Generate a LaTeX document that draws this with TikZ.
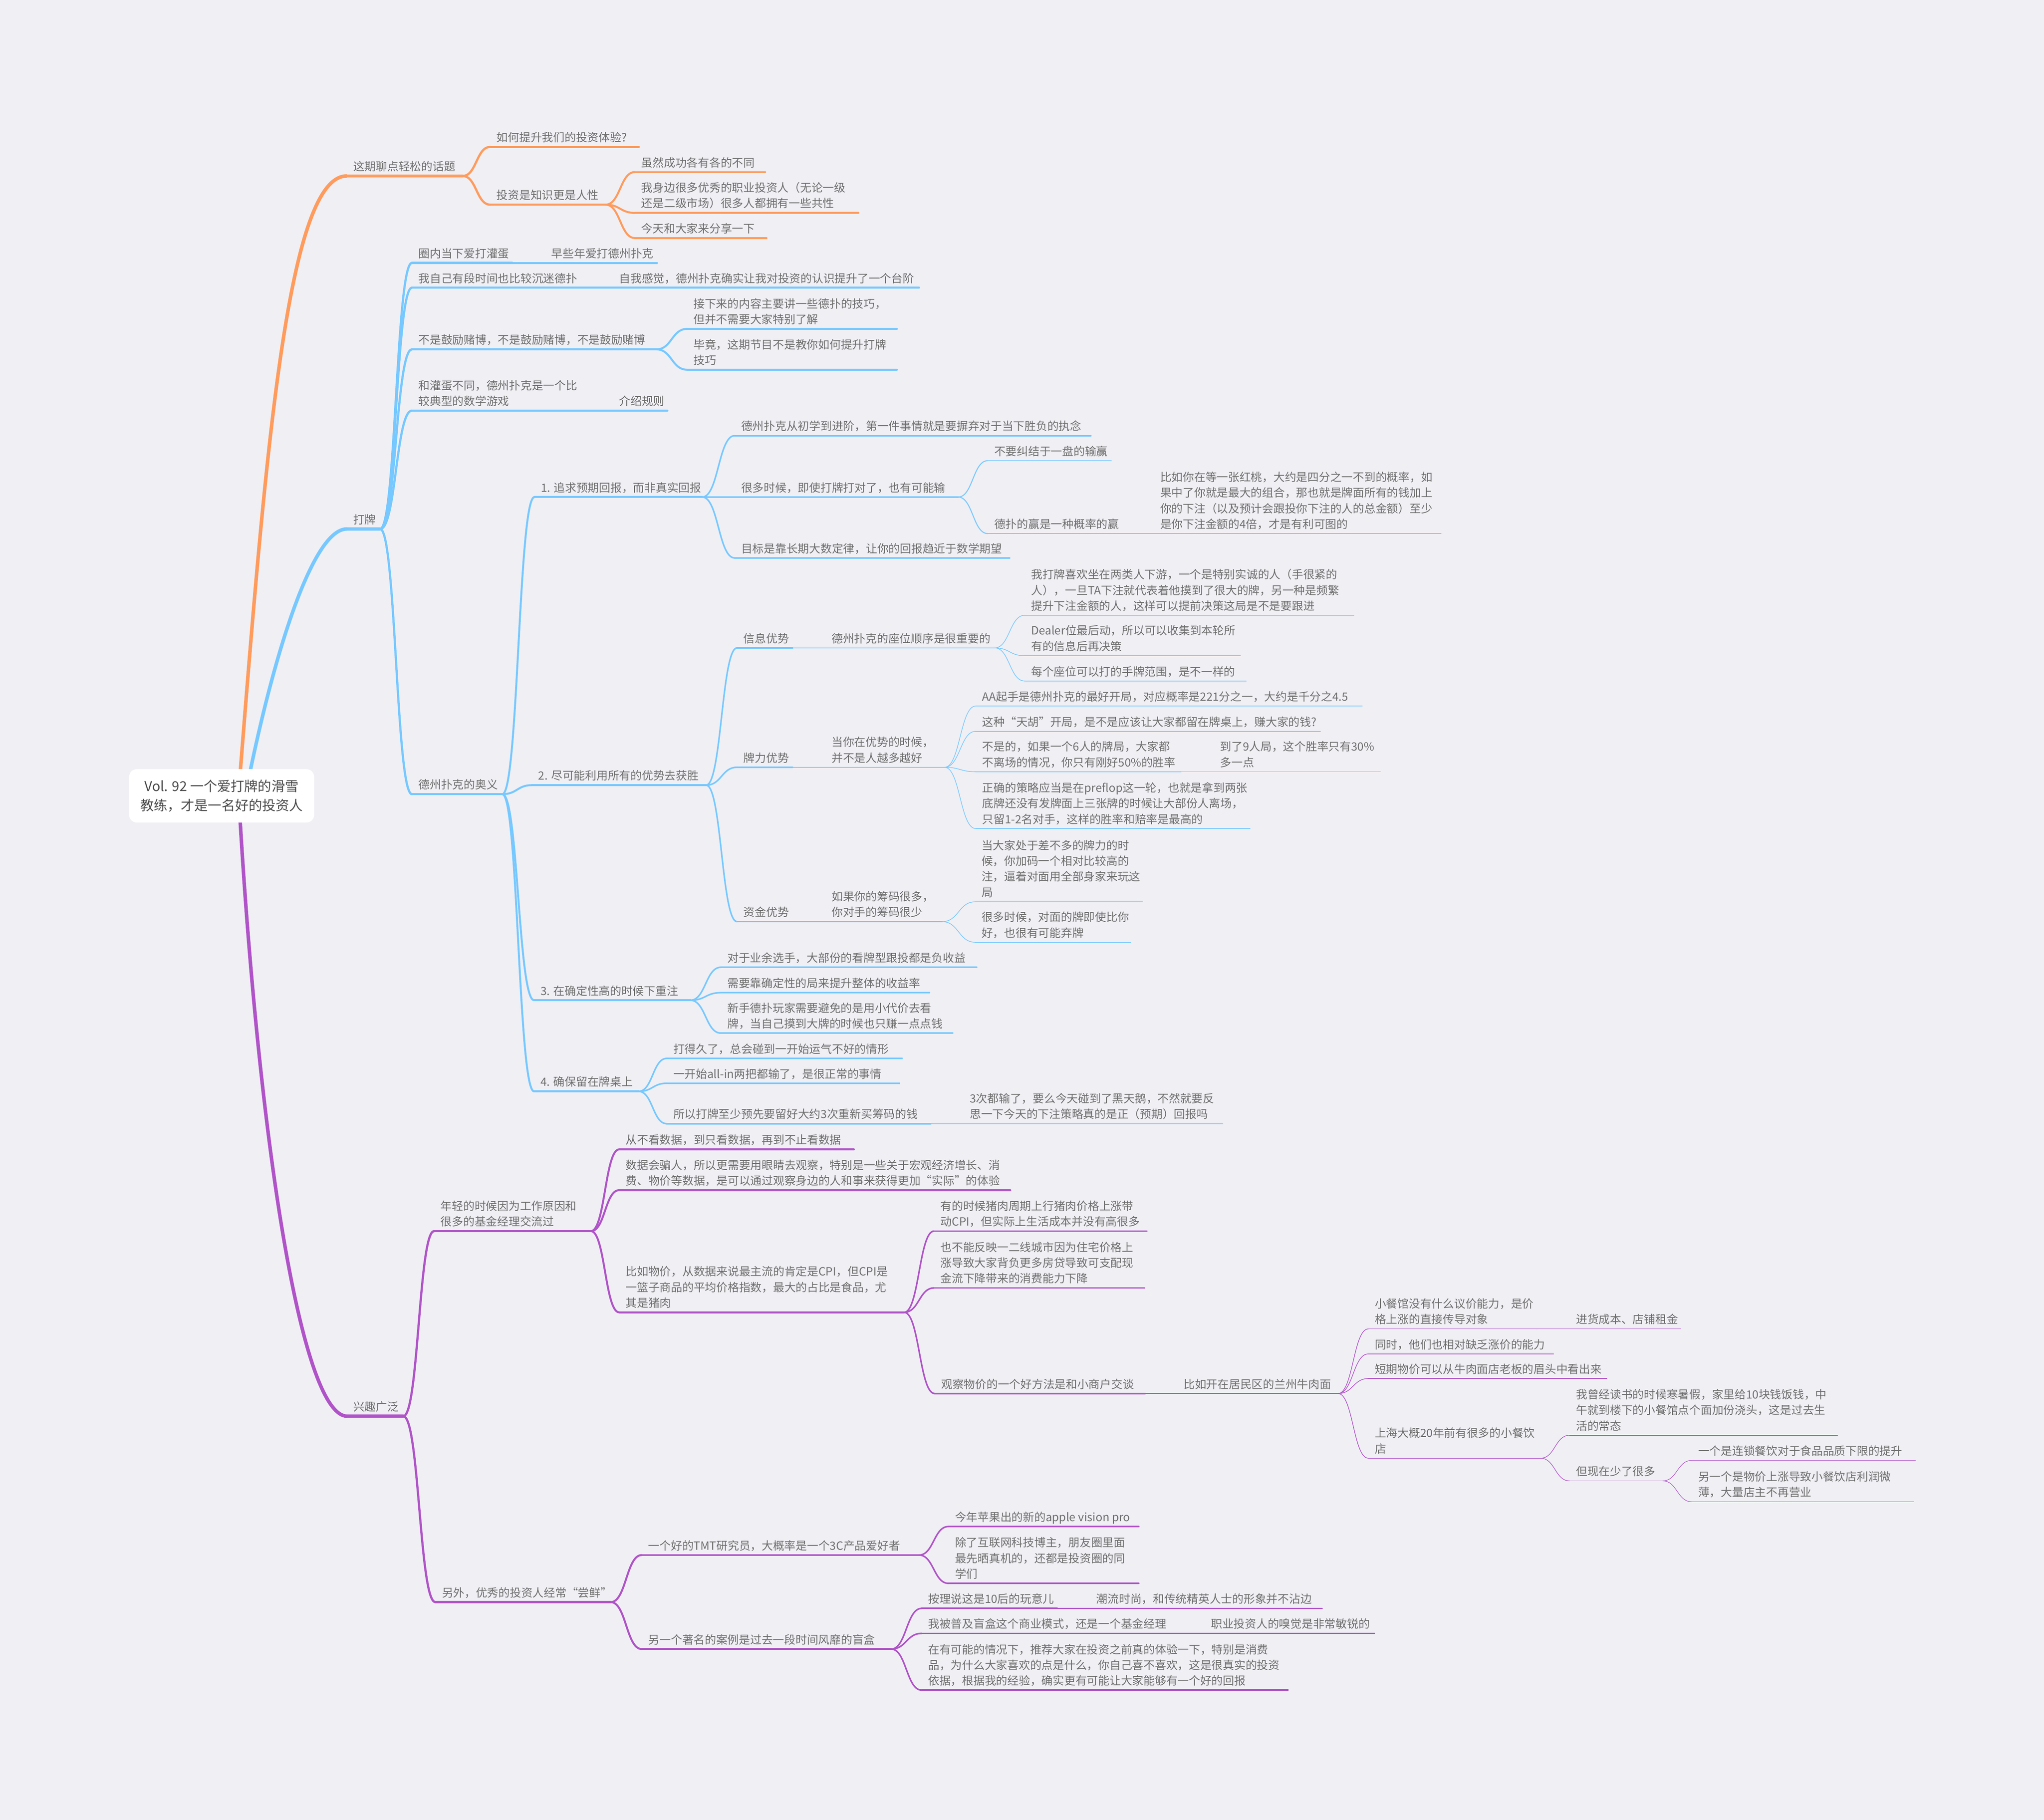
\documentclass[tikz,border=0pt]{standalone}
\usepackage{fontspec}
\setmainfont{Noto Sans CJK SC}
\usetikzlibrary{calc}
\definecolor{bgc}{HTML}{EFEFF4}
\definecolor{orc}{HTML}{FF9B5C}
\definecolor{blc}{HTML}{76C8FF}
\definecolor{puc}{HTML}{B053C8}
\definecolor{txc}{HTML}{6E6E6E}
\definecolor{rtc}{HTML}{4A4A4A}
\tikzset{
  txt/.style={font=\fontsize{8.7}{12}\selectfont, text=txc, inner sep=0pt, outer sep=0pt, align=left, anchor=base west},
  rootbox/.style={fill=white, rounded corners=6pt, minimum width=142pt, minimum height=41pt, inner sep=0pt, align=center, text=rtc, font=\fontsize{10.4}{14.5}\selectfont},
}
% #1 name, #2 colour, #3 width, #4 x start, #5 x end, #6 y of underline, #7 text x, #8 text
\newcommand\mmtopic[8]{%
  \coordinate (#1-s) at (#4,#6);
  \coordinate (#1-e) at (#5,#6);
  \draw[draw=#2, line width=#3pt, line cap=round] (#1-s) -- (#1-e);
  \node[txt] (#1) at (#7,#6-4) {#8};
}
% #1 colour, #2 width, #3 parent, #4 child
\newcommand\mmconn[4]{%
  \coordinate (mid) at ($(#3-e)!0.5!(#4-s)$);
  \draw[draw=#1, line width=#2pt, line cap=round] (#3-e) .. controls (mid |- #3-e) and (mid |- #4-s) .. (#4-s);
}
\begin{document}
\begin{tikzpicture}[x=1pt,y=-1pt]
\useasboundingbox (0,0) rectangle (1568,1396);
\fill[bgc] (0,0) rectangle (1568,1396);

% ---------------- orange ----------------
\mmtopic{A}{orc}{2.4}{266}{355}{135}{271}{这期聊点轻松的话题}
\mmtopic{A1}{orc}{1.7}{376}{490}{112.7}{381}{如何提升我们的投资体验?}
\mmtopic{A2}{orc}{1.7}{376}{464.6}{157}{381}{投资是知识更是人性}
\mmtopic{A2a}{orc}{1.5}{487}{587}{132}{492}{虽然成功各有各的不同}
\mmtopic{A2b}{orc}{1.5}{487}{658.5}{163.3}{492}{我身边很多优秀的职业投资人（无论一级\\还是二级市场）很多人都拥有一些共性}
\mmtopic{A2c}{orc}{1.5}{487}{588}{182.6}{492}{今天和大家来分享一下}
\mmconn{orc}{1.7}{A}{A1}
\mmconn{orc}{1.7}{A}{A2}
\mmconn{orc}{1.5}{A2}{A2a}
\mmconn{orc}{1.5}{A2}{A2b}
\mmconn{orc}{1.5}{A2}{A2c}

% ---------------- blue ----------------
\mmtopic{B}{blc}{2.4}{266}{291.6}{405.8}{271}{打牌}
\mmtopic{B1}{blc}{1.7}{316}{393}{201.7}{321}{圈内当下爱打灌蛋}
\mmtopic{B1a}{blc}{1.5}{393}{504}{201.7}{423}{早些年爱打德州扑克}
\mmtopic{B2}{blc}{1.7}{316}{445}{220.7}{321}{我自己有段时间也比较沉迷德扑}
\mmtopic{B2a}{blc}{1.5}{445}{705}{220.7}{475}{自我感觉，德州扑克确实让我对投资的认识提升了一个台阶}
\mmtopic{B3}{blc}{1.7}{316}{503.6}{268}{321}{不是鼓励赌博，不是鼓励赌博，不是鼓励赌博}
\mmtopic{B3a}{blc}{1.5}{527}{688}{252.3}{532}{接下来的内容主要讲一些德扑的技巧，\\但并不需要大家特别了解}
\mmtopic{B3b}{blc}{1.5}{527}{688}{283.6}{532}{毕竟，这期节目不是教你如何提升打牌\\技巧}
\mmtopic{B4}{blc}{1.7}{316}{445}{315}{321}{和灌蛋不同，德州扑克是一个比\\较典型的数学游戏}
\mmtopic{B4a}{blc}{1.5}{445}{512}{315}{475}{介绍规则}
\mmtopic{B5}{blc}{1.7}{316}{385.4}{609.2}{321}{德州扑克的奥义}
\mmconn{blc}{1.7}{B}{B1}
\mmconn{blc}{1.7}{B}{B2}
\mmconn{blc}{1.7}{B}{B3}
\mmconn{blc}{1.7}{B}{B4}
\mmconn{blc}{1.7}{B}{B5}
\mmconn{blc}{1.5}{B1}{B1a}
\mmconn{blc}{1.5}{B2}{B2a}
\mmconn{blc}{1.5}{B3}{B3a}
\mmconn{blc}{1.5}{B3}{B3b}
\mmconn{blc}{1.5}{B4}{B4a}

\mmtopic{C1}{blc}{1.5}{410}{538.7}{381.3}{415}{1. 追求预期回报，而非真实回报}
\mmtopic{C2}{blc}{1.5}{408}{541.7}{602.3}{413}{2. 尽可能利用所有的优势去获胜}
\mmtopic{C3}{blc}{1.5}{409.7}{529.6}{767.3}{414.7}{3. 在确定性高的时候下重注}
\mmtopic{C4}{blc}{1.5}{409.7}{489.9}{837.2}{414.7}{4. 确保留在牌桌上}
\mmconn{blc}{1.5}{B5}{C1}
\mmconn{blc}{1.5}{B5}{C2}
\mmconn{blc}{1.5}{B5}{C3}
\mmconn{blc}{1.5}{B5}{C4}

\mmtopic{C1a}{blc}{1.2}{563.6}{836.8}{334.2}{568.6}{德州扑克从初学到进阶，第一件事情就是要摒弃对于当下胜负的执念}
\mmtopic{C1b}{blc}{1.2}{563.6}{735}{381.3}{568.6}{很多时候，即使打牌打对了，也有可能输}
\mmtopic{C1c}{blc}{1.2}{563.6}{774.5}{428}{568.6}{目标是靠长期大数定律，让你的回报趋近于数学期望}
\mmtopic{C1b1}{blc}{0.75}{757.7}{852.5}{353.4}{762.7}{不要纠结于一盘的输赢}
\mmtopic{C1b2}{blc}{0.75}{757.7}{860}{409.3}{762.7}{德扑的赢是一种概率的赢}
\mmtopic{C1b2a}{blc}{0.5}{860}{1105.5}{409.3}{890}{比如你在等一张红桃，大约是四分之一不到的概率，如\\果中了你就是最大的组合，那也就是牌面所有的钱加上\\你的下注（以及预计会跟投你下注的人的总金额）至少\\是你下注金额的4倍，才是有利可图的}
\mmconn{blc}{1.2}{C1}{C1a}
\mmconn{blc}{1.2}{C1}{C1b}
\mmconn{blc}{1.2}{C1}{C1c}
\mmconn{blc}{0.75}{C1b}{C1b1}
\mmconn{blc}{0.75}{C1b}{C1b2}
\mmconn{blc}{0.5}{C1b2}{C1b2a}

\mmtopic{C2a}{blc}{1.2}{565.4}{608}{497}{570.4}{信息优势}
\mmtopic{C2b}{blc}{1.2}{565.4}{608}{588.6}{570.4}{牌力优势}
\mmtopic{C2c}{blc}{1.2}{565.4}{608}{707}{570.4}{资金优势}
\mmconn{blc}{1.2}{C2}{C2a}
\mmconn{blc}{1.2}{C2}{C2b}
\mmconn{blc}{1.2}{C2}{C2c}

\mmtopic{C2a1}{blc}{0.75}{608}{763}{497}{638}{德州扑克的座位顺序是很重要的}
\mmtopic{C2a1a}{blc}{0.5}{786}{1038.6}{472}{791}{我打牌喜欢坐在两类人下游，一个是特别实诚的人（手很紧的\\人），一旦TA下注就代表着他摸到了很大的牌，另一种是频繁\\提升下注金额的人，这样可以提前决策这局是不是要跟进}
\mmtopic{C2a1b}{blc}{0.5}{786}{951.6}{503}{791}{Dealer位最后动，所以可以收集到本轮所\\有的信息后再决策}
\mmtopic{C2a1c}{blc}{0.5}{786}{956}{522.4}{791}{每个座位可以打的手牌范围，是不一样的}
\mmconn{blc}{0.75}{C2a}{C2a1}
\mmconn{blc}{0.5}{C2a1}{C2a1a}
\mmconn{blc}{0.5}{C2a1}{C2a1b}
\mmconn{blc}{0.5}{C2a1}{C2a1c}

\mmtopic{C2b1}{blc}{0.75}{608}{724.6}{588.6}{638}{当你在优势的时候，\\并不是人越多越好}
\mmtopic{C2b1a}{blc}{0.5}{748.5}{1045}{541.6}{753.5}{AA起手是德州扑克的最好开局，对应概率是221分之一，大约是千分之4.5}
\mmtopic{C2b1b}{blc}{0.5}{748.5}{1013}{561}{753.5}{这种“天胡”开局，是不是应该让大家都留在牌桌上，赚大家的钱?}
\mmtopic{C2b1c}{blc}{0.5}{748.5}{906}{592}{753.5}{不是的，如果一个6人的牌局，大家都\\不离场的情况，你只有刚好50\%的胜率}
\mmtopic{C2b1c1}{blc}{0.45}{906}{1059}{592}{936}{到了9人局，这个胜率只有30\%\\多一点}
\mmtopic{C2b1d}{blc}{0.5}{748.5}{959}{635.6}{753.5}{正确的策略应当是在preflop这一轮，也就是拿到两张\\底牌还没有发牌面上三张牌的时候让大部份人离场，\\只留1-2名对手，这样的胜率和赔率是最高的}
\mmconn{blc}{0.75}{C2b}{C2b1}
\mmconn{blc}{0.5}{C2b1}{C2b1a}
\mmconn{blc}{0.5}{C2b1}{C2b1b}
\mmconn{blc}{0.5}{C2b1}{C2b1c}
\mmconn{blc}{0.5}{C2b1}{C2b1d}
\mmconn{blc}{0.45}{C2b1c}{C2b1c1}

\mmtopic{C2c1}{blc}{0.75}{608}{722.8}{707}{638}{如果你的筹码很多，\\你对手的筹码很少}
\mmtopic{C2c1a}{blc}{0.5}{748}{876.5}{691.8}{753}{当大家处于差不多的牌力的时\\候，你加码一个相对比较高的\\注，逼着对面用全部身家来玩这\\局}
\mmtopic{C2c1b}{blc}{0.5}{748}{867.5}{722.8}{753}{很多时候，对面的牌即使比你\\好，也很有可能弃牌}
\mmconn{blc}{0.75}{C2c}{C2c1}
\mmconn{blc}{0.5}{C2c1}{C2c1a}
\mmconn{blc}{0.5}{C2c1}{C2c1b}

\mmtopic{C3a}{blc}{1.2}{553}{749.2}{742}{558}{对于业余选手，大部份的看牌型跟投都是负收益}
\mmtopic{C3b}{blc}{1.2}{553}{713}{761.5}{558}{需要靠确定性的局来提升整体的收益率}
\mmtopic{C3c}{blc}{1.2}{553}{730.8}{792.5}{558}{新手德扑玩家需要避免的是用小代价去看\\牌，当自己摸到大牌的时候也只赚一点点钱}
\mmconn{blc}{1.2}{C3}{C3a}
\mmconn{blc}{1.2}{C3}{C3b}
\mmconn{blc}{1.2}{C3}{C3c}

\mmtopic{C4a}{blc}{1.2}{511.5}{692}{811.9}{516.5}{打得久了，总会碰到一开始运气不好的情形}
\mmtopic{C4b}{blc}{1.2}{511.5}{690}{831}{516.5}{一开始all-in两把都输了，是很正常的事情}
\mmtopic{C4c}{blc}{1.2}{511.5}{714}{862}{516.5}{所以打牌至少预先要留好大约3次重新买筹码的钱}
\mmtopic{C4c1}{blc}{0.75}{714}{938}{862}{744}{3次都输了，要么今天碰到了黑天鹅，不然就要反\\思一下今天的下注策略真的是正（预期）回报吗}
\mmconn{blc}{1.2}{C4}{C4a}
\mmconn{blc}{1.2}{C4}{C4b}
\mmconn{blc}{1.2}{C4}{C4c}
\mmconn{blc}{0.75}{C4c}{C4c1}

% ---------------- purple ----------------
\mmtopic{D}{puc}{2.4}{266.4}{309.4}{1086.4}{271}{兴趣广泛}
\mmtopic{D1}{puc}{1.7}{333}{453.3}{944.4}{338}{年轻的时候因为工作原因和\\很多的基金经理交流过}
\mmtopic{D2}{puc}{1.7}{334}{468.5}{1229}{339}{另外，优秀的投资人经常“尝鲜”}
\mmconn{puc}{1.7}{D}{D1}
\mmconn{puc}{1.7}{D}{D2}

\mmtopic{D1a}{puc}{1.5}{475}{655}{881.7}{480}{从不看数据，到只看数据，再到不止看数据}
\mmtopic{D1b}{puc}{1.5}{475}{775}{913}{480}{数据会骗人，所以更需要用眼睛去观察，特别是一些关于宏观经济增长、消\\费、物价等数据，是可以通过观察身边的人和事来获得更加“实际”的体验}
\mmtopic{D1c}{puc}{1.5}{475}{693.6}{1006.7}{480}{比如物价，从数据来说最主流的肯定是CPI，但CPI是\\一篮子商品的平均价格指数，最大的占比是食品，尤\\其是猪肉}
\mmconn{puc}{1.5}{D1}{D1a}
\mmconn{puc}{1.5}{D1}{D1b}
\mmconn{puc}{1.5}{D1}{D1c}

\mmtopic{D1c1}{puc}{1.2}{716.5}{879.7}{944.4}{721.5}{有的时候猪肉周期上行猪肉价格上涨带\\动CPI，但实际上生活成本并没有高很多}
\mmtopic{D1c2}{puc}{1.2}{716.5}{878}{988}{721.5}{也不能反映一二线城市因为住宅价格上\\涨导致大家背负更多房贷导致可支配现\\金流下降带来的消费能力下降}
\mmtopic{D1c3}{puc}{1.2}{717}{878.4}{1069}{722}{观察物价的一个好方法是和小商户交谈}
\mmtopic{D1c3a}{puc}{0.75}{878.4}{1026.4}{1069}{908}{比如开在居民区的兰州牛肉面}
\mmconn{puc}{1.2}{D1c}{D1c1}
\mmconn{puc}{1.2}{D1c}{D1c2}
\mmconn{puc}{1.2}{D1c}{D1c3}
\mmconn{puc}{0.75}{D1c3}{D1c3a}

\mmtopic{E1}{puc}{0.5}{1049.7}{1179}{1019.4}{1054.7}{小餐馆没有什么议价能力，是价\\格上涨的直接传导对象}
\mmtopic{E1a}{puc}{0.45}{1179}{1289.4}{1019.4}{1209}{进货成本、店铺租金}
\mmtopic{E2}{puc}{0.5}{1049.7}{1191.8}{1038.6}{1054.7}{同时，他们也相对缺乏涨价的能力}
\mmtopic{E3}{puc}{0.5}{1049.7}{1232.7}{1057.5}{1054.7}{短期物价可以从牛肉面店老板的眉头中看出来}
\mmtopic{E4}{puc}{0.5}{1049.7}{1181.8}{1118.6}{1054.7}{上海大概20年前有很多的小餐饮\\店}
\mmtopic{E4a}{puc}{0.45}{1204}{1409.7}{1101}{1209}{我曾经读书的时候寒暑假，家里给10块钱饭钱，中\\午就到楼下的小餐馆点个面加份浇头，这是过去生\\活的常态}
\mmtopic{E4b}{puc}{0.45}{1204}{1275.5}{1136}{1209}{但现在少了很多}
\mmtopic{E4b1}{puc}{0.4}{1297.7}{1469.4}{1120.3}{1302.7}{一个是连锁餐饮对于食品品质下限的提升}
\mmtopic{E4b2}{puc}{0.4}{1297.7}{1468}{1152}{1302.7}{另一个是物价上涨导致小餐饮店利润微\\薄，大量店主不再营业}
\mmconn{puc}{0.5}{D1c3a}{E1}
\mmconn{puc}{0.5}{D1c3a}{E2}
\mmconn{puc}{0.5}{D1c3a}{E3}
\mmconn{puc}{0.5}{D1c3a}{E4}
\mmconn{puc}{0.45}{E1}{E1a}
\mmconn{puc}{0.45}{E4}{E4a}
\mmconn{puc}{0.45}{E4}{E4b}
\mmconn{puc}{0.4}{E4b}{E4b1}
\mmconn{puc}{0.4}{E4b}{E4b2}

\mmtopic{D2a}{puc}{1.5}{492.3}{705}{1192.9}{497.3}{一个好的TMT研究员，大概率是一个3C产品爱好者}
\mmtopic{D2b}{puc}{1.5}{492.3}{683.6}{1265}{497.3}{另一个著名的案例是过去一段时间风靡的盲盒}
\mmconn{puc}{1.5}{D2}{D2a}
\mmconn{puc}{1.5}{D2}{D2b}
\mmtopic{D2a1}{puc}{1.2}{727.6}{873.6}{1171}{732.6}{今年苹果出的新的apple vision pro}
\mmtopic{D2a2}{puc}{1.2}{727.6}{873.6}{1214.6}{732.6}{除了互联网科技博主，朋友圈里面\\最先晒真机的，还都是投资圈的同\\学们}
\mmconn{puc}{1.2}{D2a}{D2a1}
\mmconn{puc}{1.2}{D2a}{D2a2}
\mmtopic{D2b1}{puc}{1.2}{707}{811}{1233.8}{712}{按理说这是10后的玩意儿}
\mmtopic{D2b1a}{puc}{0.75}{811}{1014.4}{1233.8}{841}{潮流时尚，和传统精英人士的形象并不沾边}
\mmtopic{D2b2}{puc}{1.2}{707}{899.6}{1253}{712}{我被普及盲盒这个商业模式，还是一个基金经理}
\mmtopic{D2b2a}{puc}{0.75}{899.6}{1054.5}{1253}{929}{职业投资人的嗅觉是非常敏锐的}
\mmtopic{D2b3}{puc}{1.2}{707}{988}{1296.5}{712}{在有可能的情况下，推荐大家在投资之前真的体验一下，特别是消费\\品，为什么大家喜欢的点是什么，你自己喜不喜欢，这是很真实的投资\\依据，根据我的经验，确实更有可能让大家能够有一个好的回报}
\mmconn{puc}{1.2}{D2b}{D2b1}
\mmconn{puc}{1.2}{D2b}{D2b2}
\mmconn{puc}{1.2}{D2b}{D2b3}
\mmconn{puc}{0.75}{D2b1}{D2b1a}
\mmconn{puc}{0.75}{D2b2}{D2b2a}

% ---------------- main branches from root ----------------
\coordinate (rA) at (184,596);
\coordinate (rB) at (191,596);
\coordinate (rD) at (184,626);
\draw[orc, line width=2.7pt] (rA) .. controls (204,344) and (221,135) .. (A-s);
\draw[blc, line width=2.7pt] (rB) .. controls (212,494) and (241,405.8) .. (B-s);
\draw[puc, line width=2.7pt] (rD) .. controls (199,878) and (231.4,1086.4) .. (D-s);

\node[rootbox] (root) at (170,610.5) {Vol. 92 一个爱打牌的滑雪\\教练，才是一名好的投资人};
\end{tikzpicture}
\end{document}
